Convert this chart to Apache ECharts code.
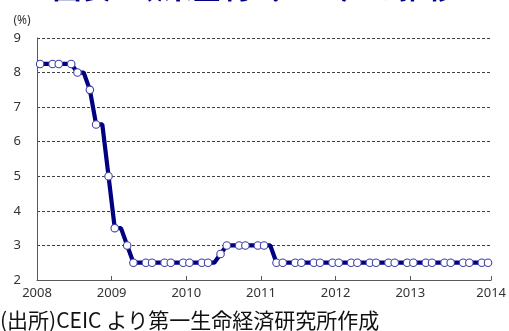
<!DOCTYPE html>
<html>
<head>
<meta charset="utf-8">
<script src="https://cdn.jsdelivr.net/npm/echarts@6/dist/echarts.min.js"></script>
<style>
html,body{margin:0;padding:0;background:#fff;}
#chart{width:509px;height:331px;}
</style>
</head>
<body>
<div id="chart"></div>
<script>
// Monthly data, Jan 2008 .. Jan 2014 (%)
const months = [
  '2008-01','2008-02','2008-03','2008-04','2008-05','2008-06','2008-07','2008-08','2008-09','2008-10','2008-11','2008-12',
  '2009-01','2009-02','2009-03','2009-04','2009-05','2009-06','2009-07','2009-08','2009-09','2009-10','2009-11','2009-12',
  '2010-01','2010-02','2010-03','2010-04','2010-05','2010-06','2010-07','2010-08','2010-09','2010-10','2010-11','2010-12',
  '2011-01','2011-02','2011-03','2011-04','2011-05','2011-06','2011-07','2011-08','2011-09','2011-10','2011-11','2011-12',
  '2012-01','2012-02','2012-03','2012-04','2012-05','2012-06','2012-07','2012-08','2012-09','2012-10','2012-11','2012-12',
  '2013-01','2013-02','2013-03','2013-04','2013-05','2013-06','2013-07','2013-08','2013-09','2013-10','2013-11','2013-12',
  '2014-01'
];
const rates = [
  8.25,8.25,8.25,8.25,8.25,8.25,8.0,8.0,7.5,6.5,6.5,5.0,
  3.5,3.5,3.0,2.5,2.5,2.5,2.5,2.5,2.5,2.5,2.5,2.5,
  2.5,2.5,2.5,2.5,2.5,2.75,3.0,3.0,3.0,3.0,3.0,3.0,
  3.0,3.0,2.5,2.5,2.5,2.5,2.5,2.5,2.5,2.5,2.5,2.5,
  2.5,2.5,2.5,2.5,2.5,2.5,2.5,2.5,2.5,2.5,2.5,2.5,
  2.5,2.5,2.5,2.5,2.5,2.5,2.5,2.5,2.5,2.5,2.5,2.5,
  2.5
];
const yearLabels = ['2008','2009','2010','2011','2012','2013','2014'];
const titleText = '図表4 政策金利（OCR）の推移';
const unitText = '(%)';
const sourceText = '(出所)CEIC より第一生命経済研究所作成';

// x position: month index from Jan 2008, plotted at mid-month
const seriesData = months.map((m, i) => {
  const mon = parseInt(m.slice(5), 10) - 1;
  const item = { value: [i + 0.5, rates[i]] };
  if (mon % 3 === 1) item.symbol = 'none';
  return item;
});

const chart = echarts.init(document.getElementById('chart'), null, { renderer: 'canvas' });
const axisColor = '#333333';
chart.setOption({
  animation: false,
  backgroundColor: '#fff',
  grid: { left: 37, right: 12, top: 38, bottom: 51 },
  xAxis: {
    type: 'value', min: 0, max: 73, interval: 12,
    axisLine: { show: true, lineStyle: { color: '#595959', width: 1 } },
    axisTick: { show: true, inside: true, length: 4, lineStyle: { color: '#595959' } },
    axisLabel: {
      margin: 7, fontSize: 13, color: axisColor, fontFamily: 'Noto Sans',
      showMaxLabel: true,
      formatter: v => yearLabels[Math.round(v / 12)] || ''
    },
    splitLine: { show: false }
  },
  yAxis: {
    type: 'value', min: 2, max: 9, interval: 1,
    axisLine: { show: true, lineStyle: { color: '#595959', width: 1 } },
    axisTick: { show: false },
    axisLabel: { margin: 16, fontSize: 13, color: axisColor, fontFamily: 'Noto Sans' },
    splitLine: { show: true, lineStyle: { color: '#404040', width: 1, type: [3, 2] } }
  },
  series: [{
    type: 'line',
    data: seriesData,
    showAllSymbol: true,
    symbol: 'circle',
    symbolSize: 7.5,
    lineStyle: { color: '#000080', width: 4.2 },
    itemStyle: { color: '#ffffff', borderColor: '#4040a8', borderWidth: 1.1 },
    z: 3
  }],
  graphic: [
    { type: 'text', left: 'center', top: -27,
      style: { text: titleText, fontSize: 29, fontWeight: 'bold', fill: '#000080',
               fontFamily: 'Noto Sans CJK JP' } },
    { type: 'text', x: 22, y: 21,
      style: { text: unitText, fontSize: 12, fill: axisColor, fontFamily: 'Noto Sans',
               textAlign: 'center', textVerticalAlign: 'middle' } },
    { type: 'text', x: 0, y: 320,
      style: { text: sourceText, fontSize: 21, fill: '#111', fontFamily: 'Noto Sans CJK JP',
               textAlign: 'left', textVerticalAlign: 'middle' } }
  ]
});
</script>
</body>
</html>
